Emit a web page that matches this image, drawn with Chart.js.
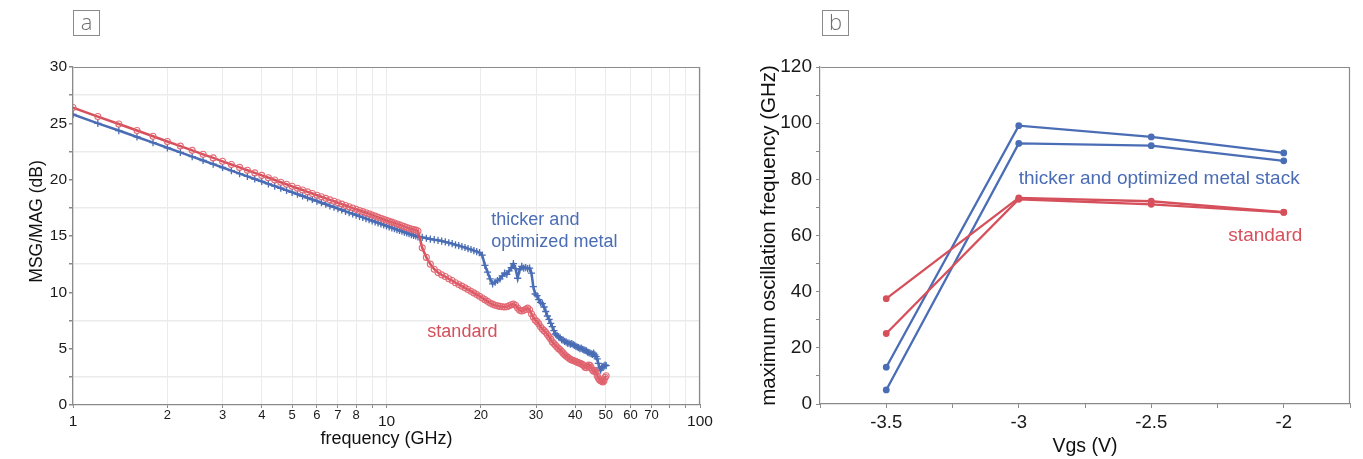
<!DOCTYPE html>
<html><head><meta charset="utf-8">
<script src="https://cdn.jsdelivr.net/npm/chart.js@4.4.1/dist/chart.umd.min.js"></script>
<style>
html,body{margin:0;padding:0;background:#fff;width:1363px;height:459px;overflow:hidden;font-family:"Liberation Sans",Arial,sans-serif}
.panel{position:absolute;top:0;height:459px}
#pa{left:0;width:720px}
#pb{left:740px;width:623px}
.tag{position:absolute;top:10px;width:25px;height:24px;border:1px solid #8a8a8a;color:#707070;font-family:"Open Sans",sans-serif;font-weight:300;font-size:22px;line-height:21px;text-align:center;background:#fff}
</style></head><body>
<div class="panel" id="pa"><canvas id="ca" width="720" height="459"></canvas></div>
<div class="panel" id="pb"><canvas id="cb" width="623" height="459"></canvas></div>
<div class="tag" style="left:73px">a</div>
<div class="tag" style="left:822px">b</div>
<script>
// ---------- Panel a: MSG/MAG vs frequency ----------
const freqGHz = [
 1.0,1.2,1.4,1.6,1.8,2.0,2.2,2.4,2.6,2.8,
 3.0,3.2,3.4,3.6,3.8,4.0,4.2,4.4,4.6,4.8,
 5.0,5.2,5.4,5.6,5.8,6.0,6.2,6.4,6.6,6.8,
 7.0,7.2,7.4,7.6,7.8,8.0,8.2,8.4,8.6,8.8,
 9.0,9.2,9.4,9.6,9.8,10.0,10.2,10.4,10.6,10.8,
 11.0,11.2,11.4,11.6,11.8,12.0,12.2,12.4,
 12.6,13.0,13.4,13.8,14.2,14.6,15.0,15.4,15.8,16.2,
 16.6,17.0,17.4,17.8,18.2,18.6,19.0,19.4,19.8,20.2,
 20.6,21.0,21.4,21.8,22.2,22.6,23.0,23.4,23.8,24.2,
 24.6,25.0,25.4,25.8,26.2,26.6,27.0,27.4,27.8,28.2,
 28.6,29.0,29.4,29.8,30.2,30.6,31.0,31.4,31.8,32.2,
 32.6,33.0,33.4,33.8,34.2,34.6,35.0,35.4,35.8,36.2,
 36.6,37.0,37.4,37.8,38.2,38.6,39.0,39.4,39.8,40.2,
 40.6,41.0,41.4,41.8,42.2,42.6,43.0,43.4,43.8,44.2,
 44.6,45.0,45.4,45.8,46.2,46.6,47.0,47.4,47.8,48.2,
 48.6,49.0,49.4,49.8,50.2
];
const msgStandard = [
 26.4,25.6,24.94,24.36,23.85,23.39,22.98,22.6,22.25,21.93,
 21.63,21.35,21.09,20.84,20.6,20.38,20.17,19.97,19.77,19.59,
 19.41,19.24,19.08,18.92,18.77,18.62,18.48,18.34,18.21,18.08,
 17.95,17.83,17.71,17.59,17.48,17.37,17.26,17.16,17.06,16.96,
 16.86,16.76,16.67,16.58,16.49,16.4,16.31,16.23,16.15,16.07,
 15.99,15.91,15.83,15.76,15.69,15.62,15.57,15.52,
 15.45,13.95,13.1,12.5,12.05,11.75,11.55,11.4,11.2,11.05,
 10.85,10.7,10.55,10.4,10.25,10.1,9.95,9.8,9.65,9.5,
 9.35,9.2,9.05,8.95,8.85,8.8,8.75,8.72,8.7,8.72,
 8.8,8.9,8.95,8.85,8.6,8.4,8.35,8.4,8.5,8.6,
 8.45,8.1,7.8,7.55,7.4,7.2,6.95,6.75,6.6,6.45,
 6.25,6.05,5.85,5.6,5.45,5.3,5.15,5.0,4.9,4.75,
 4.6,4.45,4.35,4.25,4.15,4.05,4.0,3.95,3.9,3.85,
 3.8,3.75,3.7,3.65,3.6,3.5,3.35,3.3,3.45,3.55,
 3.5,3.3,3.1,3.0,3.05,2.9,2.6,2.4,2.25,2.15,
 2.1,2.05,2.15,2.45,2.6
];
const msgThicker = [
 25.8,25.0,24.36,23.79,23.29,22.83,22.42,22.04,21.7,21.38,
 21.08,20.8,20.54,20.29,20.06,19.84,19.63,19.43,19.24,19.05,
 18.88,18.71,18.55,18.39,18.24,18.09,17.95,17.82,17.68,17.56,
 17.43,17.31,17.19,17.08,16.97,16.86,16.75,16.65,16.55,16.45,
 16.35,16.26,16.17,16.08,15.99,15.9,15.81,15.73,15.65,15.57,
 15.49,15.42,15.34,15.27,15.2,15.13,15.06,15.0,
 14.93,14.88,14.8,14.73,14.67,14.62,14.55,14.48,14.4,14.32,
 14.22,14.15,14.06,13.98,13.88,13.8,13.7,13.62,13.52,13.3,
 12.4,11.8,11.2,10.75,10.9,11.05,11.2,11.45,11.7,11.6,
 11.9,12.2,12.55,12.1,11.25,12.0,12.3,12.15,12.2,12.1,
 12.15,11.7,10.5,9.85,9.7,9.35,9.1,9.0,8.7,8.3,
 7.9,7.6,7.25,6.95,6.6,6.3,6.15,6.05,5.95,5.8,
 5.75,5.65,5.6,5.5,5.5,5.4,5.45,5.35,5.3,5.2,
 5.15,5.1,5.0,5.05,4.95,4.9,4.85,4.8,4.7,4.65,
 4.6,4.55,4.5,4.6,4.45,4.3,4.1,3.7,3.3,3.1,
 3.3,3.4,3.45,3.55,3.5
];
const freqGridTicks = [1,2,3,4,5,6,7,8,9,10,20,30,40,50,60,70,80,90,100];
const freqTickLabels = [1,2,3,4,5,6,7,8,10,20,30,40,50,60,70,100];
const freqDecadeLabels = [1,10,100];
const msgGridTicks = [0,2.5,5,7.5,10,12.5,15,17.5,20,22.5,25,27.5,30];
const msgTickLabels = [0,5,10,15,20,25,30];

// ---------- Panel b: fmax vs Vgs ----------
const vgsV = [-3.5,-3,-2.5,-2];
const fmaxThickerA = [13.1,99.1,95.1,89.4];
const fmaxThickerB = [5.0,92.8,92.0,86.6];
const fmaxStandardA = [37.5,73.4,72.2,68.3];
const fmaxStandardB = [25.1,72.9,71.1,68.2];
const vgsGridTicks = [-3.75,-3.5,-3.25,-3,-2.75,-2.5,-2.25,-2,-1.75];
const vgsTickLabels = [-3.5,-3,-2.5,-2];
const fmaxGridTicks = [0,10,20,30,40,50,60,70,80,90,100,110,120];
const fmaxTickLabels = [0,20,40,60,80,100,120];

const RED = '#d6505c';
const RED_PT = 'rgba(224,100,112,0.95)';
const BLUE = '#4a6db5';
const AXIS = '#8a8a8a';
const FONT = '"Liberation Sans", Arial, sans-serif';
Chart.defaults.font.family = FONT;
Chart.defaults.color = '#1a1a1a';

const framePlugin = {
  id: 'frame',
  beforeDatasetsDraw(chart, args, opts) {
    const {ctx, chartArea: a} = chart;
    ctx.save();
    ctx.strokeStyle = opts.color; ctx.lineWidth = opts.width;
    ctx.beginPath();
    ctx.moveTo(Math.round(a.left) + 0.5, Math.round(a.top) + 0.5);
    ctx.lineTo(Math.round(a.right) - 0.5, Math.round(a.top) + 0.5);
    ctx.lineTo(Math.round(a.right) - 0.5, Math.round(a.bottom));
    ctx.stroke();
    ctx.restore();
  }
};
const notesPlugin = {
  id: 'notes',
  afterDatasetsDraw(chart, args, opts) {
    const {ctx, scales} = chart;
    ctx.save();
    ctx.font = opts.font; ctx.textBaseline = 'middle';
    for (const n of opts.items) {
      ctx.fillStyle = n.color; ctx.textAlign = n.align;
      ctx.fillText(n.text, scales.x.getPixelForValue(n.x), scales.y.getPixelForValue(n.y));
    }
    ctx.restore();
  }
};
const pts = (xs, ys) => xs.map((x, i) => ({x, y: ys[i]}));

new Chart(document.getElementById('ca'), {
  type: 'scatter',
  data: { datasets: [
    { label: 'standard', data: pts(freqGHz, msgStandard), showLine: true,
      borderColor: RED, borderWidth: 2.5, pointStyle: 'circle', pointRadius: 3,
      pointBorderWidth: 1.1, pointBorderColor: RED_PT, pointBackgroundColor: 'rgba(255,255,255,0)' },
    { label: 'thicker and optimized metal', data: pts(freqGHz, msgThicker), showLine: true,
      borderColor: BLUE, borderWidth: 2.5, pointStyle: 'cross', pointRadius: 3.6,
      pointBorderWidth: 1.3, pointBorderColor: BLUE, pointBackgroundColor: BLUE }
  ]},
  options: {
    responsive: false, animation: false, events: [],
    layout: { padding: { left: 0, right: 20, top: 67, bottom: 0 } },
    plugins: {
      legend: { display: false }, tooltip: { enabled: false },
      frame: { color: AXIS, width: 1.2 },
      notes: { font: '18px ' + FONT, items: [
        { text: 'thicker and', x: 21.6, y: 16.4, color: BLUE, align: 'left' },
        { text: 'optimized metal', x: 21.6, y: 14.45, color: BLUE, align: 'left' },
        { text: 'standard', x: 13.5, y: 6.5, color: RED, align: 'left' }
      ]}
    },
    scales: {
      x: {
        type: 'logarithmic', min: 1, max: 100,
        afterBuildTicks: s => { s.ticks = freqGridTicks.map(v => ({ value: v })); },
        afterFit: s => { s.height = 54; },
        ticks: {
          autoSkip: false, maxRotation: 0, padding: 0, color: '#1a1a1a',
          callback: v => freqDecadeLabels.includes(v) ? ['', String(v)] : (freqTickLabels.includes(v) ? String(v) : ''),
          font: c => freqDecadeLabels.includes(c.tick.value) ? { size: 15.5, lineHeight: '9px' } : { size: 13 }
        },
        grid: { color: '#ebebeb', tickLength: 3, tickColor: AXIS, lineWidth: 1 },
        border: { color: AXIS, width: 1.2 },
        title: { display: true, text: 'frequency (GHz)', color: '#111', font: { size: 18 }, padding: { top: 0, bottom: 9 } }
      },
      y: {
        min: 0, max: 30,
        afterBuildTicks: s => { s.ticks = msgGridTicks.map(v => ({ value: v })); },
        afterFit: s => { s.width = 73; },
        ticks: {
          autoSkip: false, padding: 2, color: '#1a1a1a', font: { size: 15.5 },
          callback: v => msgTickLabels.includes(v) ? String(v) : ''
        },
        grid: { color: c => (msgTickLabels.includes(c.tick.value) ? 'rgba(0,0,0,0)' : '#ebebeb'), tickLength: 4, tickColor: AXIS, lineWidth: 1.5 },
        border: { color: AXIS, width: 1.2 },
        title: { display: true, text: '      MSG/MAG (dB)', color: '#111', font: { size: 17.5 }, padding: { top: 26.5, bottom: 0 } }
      }
    }
  },
  plugins: [framePlugin, notesPlugin]
});

const lineDs = (label, ys, color) => ({
  label, data: pts(vgsV, ys), showLine: true, borderColor: color, borderWidth: 2.3,
  pointStyle: 'circle', pointRadius: 3.4, pointBorderWidth: 0, pointBackgroundColor: color, pointBorderColor: color
});

new Chart(document.getElementById('cb'), {
  type: 'scatter',
  data: { datasets: [
    lineDs('standard A', fmaxStandardA, RED),
    lineDs('standard B', fmaxStandardB, RED),
    lineDs('thicker A', fmaxThickerA, BLUE),
    lineDs('thicker B', fmaxThickerB, BLUE)
  ]},
  options: {
    responsive: false, animation: false, events: [],
    layout: { padding: { left: 0, right: 13, top: 67, bottom: 0 } },
    plugins: {
      legend: { display: false }, tooltip: { enabled: false },
      frame: { color: AXIS, width: 1.2 },
      notes: { font: '19px ' + FONT, items: [
        { text: 'thicker and optimized metal stack', x: -3.0, y: 80.2, color: BLUE, align: 'left' },
        { text: 'standard', x: -1.93, y: 60, color: RED, align: 'right' }
      ]}
    },
    scales: {
      x: {
        type: 'linear', min: -3.75, max: -1.75,
        afterBuildTicks: s => { s.ticks = vgsGridTicks.map(v => ({ value: v })); },
        afterFit: s => { s.height = 55; },
        ticks: {
          autoSkip: false, maxRotation: 0, padding: 4, color: '#1a1a1a', font: { size: 18.5 },
          callback: v => vgsTickLabels.includes(v) ? String(v) : ''
        },
        grid: { drawOnChartArea: false, tickLength: 4, tickColor: AXIS },
        border: { color: AXIS, width: 1.2 },
        title: { display: true, text: 'Vgs (V)', color: '#111', font: { size: 19.5 }, padding: { top: 0, bottom: 1 } }
      },
      y: {
        min: 0, max: 120,
        afterBuildTicks: s => { s.ticks = fmaxGridTicks.map(v => ({ value: v })); },
        afterFit: s => { s.width = 80; },
        ticks: {
          autoSkip: false, padding: 4, color: '#1a1a1a', font: { size: 19 },
          callback: v => fmaxTickLabels.includes(v) ? String(v) : ''
        },
        grid: { drawOnChartArea: false, tickLength: 4, tickColor: AXIS },
        border: { color: AXIS, width: 1.2 },
        title: { display: true, text: 'maximum oscillation frequency (GHz)', color: '#111', font: { size: 20.5 }, padding: { top: 17, bottom: 0 } }
      }
    }
  },
  plugins: [framePlugin, notesPlugin]
});
</script>
</body></html>
